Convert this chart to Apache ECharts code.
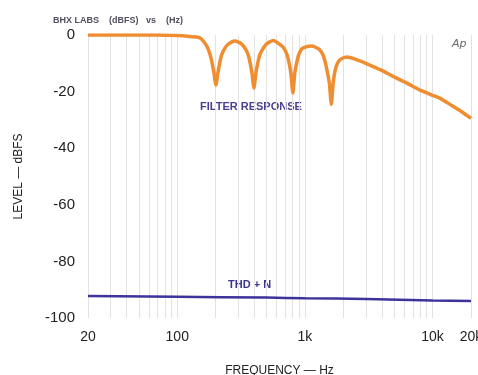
<!DOCTYPE html>
<html>
<head>
<meta charset="utf-8">
<script src="https://cdn.jsdelivr.net/npm/echarts@6/dist/echarts.min.js"></script>
<style>
html,body{margin:0;padding:0;background:#fff;overflow:hidden;}
#chart{width:478px;height:375px;}
</style>
</head>
<body>
<div id="chart"></div>
<script>
// Frequency (Hz) and level (dBFS) of the filter response curve
var filterFreq = [20, 40, 70, 100, 120, 140, 150, 161, 173, 181, 188, 194, 201, 208, 215, 223, 235, 251, 283, 320, 343, 359, 373, 385, 399, 413, 427, 443, 467, 499, 566, 644, 692, 724, 753, 777, 805, 833, 861, 894, 942, 1006, 1131, 1290, 1385, 1450, 1505, 1555, 1610, 1665, 1725, 1800, 1900, 2130, 2500, 3000, 4000, 5000, 6300, 8000, 10000, 11400, 14000, 17000, 20000];
var filterDb = [0, 0, 0, -0.2, -0.4, -0.7, -1, -2.3, -4.5, -7, -10, -13.5, -17.7, -13.5, -10, -7, -4.8, -3.2, -2.1, -3.2, -5, -7, -10, -13.5, -18.7, -13.5, -10, -7, -5, -3.2, -1.9, -3.5, -5, -7, -10, -13.5, -20.5, -13.5, -10, -7, -5, -4.3, -3.9, -5, -7, -10, -13.5, -17, -24.5, -17, -12.5, -10, -8.6, -7.8, -8.6, -10, -12.5, -14.8, -17, -19.5, -21.3, -22.3, -24.8, -27.2, -29.4];

// THD + N curve
var thdFreq = [20, 100, 500, 1000, 3000, 10000, 20000];
var thdDb = [-92.2, -92.5, -92.8, -93, -93.3, -93.8, -94];

// Axis tick labels and grid frequencies
var xLabelValues = [20, 100, 1000, 10000, 20000];
var xLabelText = {20: '20', 100: '100', 1000: '1k', 10000: '10k', 20000: '20k'};
var xGridValues = [20, 30, 40, 50, 60, 70, 80, 90, 100, 200, 300, 400, 500, 600, 700, 800, 900, 1000, 2000, 3000, 4000, 5000, 6000, 7000, 8000, 9000, 10000, 20000];
var yTicks = [0, -20, -40, -60, -80, -100];

function pairs(xs, ys) { return xs.map(function (x, i) { return [x, ys[i]]; }); }

var chart = echarts.init(document.getElementById('chart'), null, {renderer: 'canvas', width: 478, height: 375});
chart.setOption({
  animation: false,
  backgroundColor: '#ffffff',
  grid: {left: 88, right: 7, top: 35, bottom: 57, containLabel: false, outerBoundsMode: 'none'},
  title: {
    text: 'BHX LABS    (dBFS)   vs    (Hz)',
    left: 48, top: 11,
    textStyle: {fontFamily: 'Liberation Sans', fontSize: 9, fontWeight: 'bold', color: '#50505e'}
  },
  xAxis: {
    type: 'log', logBase: 10, min: 20, max: 20000,
    name: 'FREQUENCY — Hz', nameLocation: 'middle', nameGap: 47,
    nameTextStyle: {fontFamily: 'Liberation Sans', fontSize: 12, color: '#222', letterSpacing: 1.5},
    axisLine: {show: false},
    axisTick: {show: false, customValues: xGridValues},
    splitLine: {show: true, lineStyle: {color: '#e2e2e2', width: 1}},
    axisLabel: {
      customValues: xLabelValues,
      formatter: function (v) { return xLabelText[Math.round(v)] || ''; },
      fontFamily: 'Liberation Sans', fontSize: 14, color: '#222', margin: 12,
      showMinLabel: true, showMaxLabel: true, hideOverlap: false
    }
  },
  yAxis: {
    type: 'value', min: -100, max: 0, interval: 20,
    name: 'LEVEL — dBFS', nameLocation: 'middle', nameGap: 63, nameRotate: 90,
    nameTextStyle: {fontFamily: 'Liberation Sans', fontSize: 12, color: '#222', letterSpacing: 1.5},
    axisLine: {show: false},
    axisTick: {show: false},
    splitLine: {show: false},
    axisLabel: {
      fontFamily: 'Liberation Sans', fontSize: 15, color: '#222', margin: 13,
      formatter: function (v) { return yTicks.indexOf(v) >= 0 ? (v < 0 ? '-' + (-v) : String(v)) : ''; }
    }
  },
  series: [
    {
      name: 'FILTER RESPONSE', type: 'line', data: pairs(filterFreq, filterDb),
      showSymbol: false, smooth: 0.2,
      lineStyle: {color: '#ef8d30', width: 3.5}
    },
    {
      name: 'THD + N', type: 'line', data: pairs(thdFreq, thdDb),
      showSymbol: false, smooth: true,
      lineStyle: {color: '#3d339c', width: 2.5}
    }
  ],
  graphic: [
    {type: 'text', left: 200, top: 101, style: {text: 'FILTER RESPONSE', font: 'bold 11px "Liberation Sans"', fill: '#4b3f90', letterSpacing: 1.3}},
    {type: 'text', left: 228, top: 279, style: {text: 'THD + N', font: 'bold 11px "Liberation Sans"', fill: '#3d3390', letterSpacing: 1.3}},
    {type: 'text', left: 452, top: 39, style: {text: 'Ap', font: 'italic 11px "DejaVu Sans"', fill: '#666'}}
  ]
});
</script>
</body>
</html>
